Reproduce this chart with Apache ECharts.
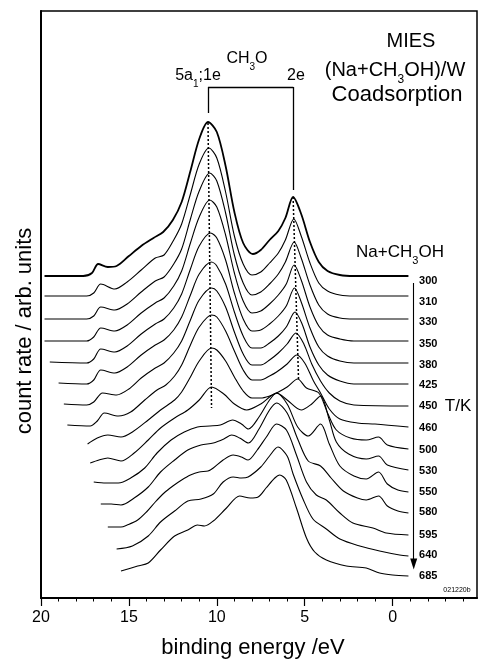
<!DOCTYPE html>
<html>
<head>
<meta charset="utf-8">
<script src="https://cdn.jsdelivr.net/npm/echarts@6/dist/echarts.min.js"></script>
<style>
  html, body { margin: 0; padding: 0; background: #fff; }
  #chart { width: 479px; height: 659px; }
</style>
</head>
<body>
<div id="chart"></div>
<script>
// temperatures (K), one curve each, top to bottom
const temps = ['300', '310', '330', '350', '380', '425', '450', '460', '500', '530', '550', '580', '595', '640', '685'];
// vertical offset of each curve baseline (arb. units)
const offsets = [322, 302, 279, 257, 235, 214, 192, 171, 149, 128, 106, 85, 63, 42, 22];
// x ticks
const majorTicks = [20, 15, 10, 5, 0];
const minorTicks = [20, 19, 18, 17, 16, 15, 14, 13, 12, 11, 10, 9, 8, 7, 6, 5, 4, 3, 2, 1, 0, -1, -2, -3, -4];

// spectra: [binding energy eV, count rate above own baseline]
const s300 = [[19.8,0],[17.6,0],[17.1,3],[16.75,12],[16.2,9],[15.7,10],[15,20],[14.3,30],[13.6,38],[13.05,44],[12.5,56],[12,74],[11.5,105],[11,137],[10.5,154],[10,144],[9.5,110],[9,64],[8.5,33],[7.95,22],[7.5,26],[7,36],[6.5,45],[6.1,58],[5.66,79],[5.2,62],[4.7,34],[4.2,14],[3.7,5],[3,1],[2.2,0],[-0.9,0]];
const s310 = [[19.8,0],[17.4,0],[17,3],[16.6,12],[15.8,7],[15.1,14],[14.3,26],[13.5,38],[13,41],[12.45,56],[12,72],[11.5,102],[11,132],[10.45,148],[10,138],[9.5,104],[9,60],[8.5,32],[8,21],[7.5,24],[7,33],[6.5,43],[6.1,56],[5.62,77],[5.2,60],[4.7,33],[4.2,13],[3.7,5],[3,1],[2.2,0],[-0.9,0]];
const s330 = [[19.8,0],[17.4,0],[17,3],[16.6,12],[15.8,9],[15.1,15],[14.3,27],[13.5,38],[13,42],[12.45,55],[12,70],[11.5,100],[11,128],[10.4,146],[10,138],[9.5,106],[9,64],[8.5,36],[8,24],[7.5,27],[7,35],[6.5,45],[6.1,57],[5.6,77],[5.2,61],[4.7,34],[4.2,14],[3.7,5],[3,1],[2.2,0],[-0.9,0]];
const s350 = [[19.8,0],[17.4,0],[17,4],[16.6,13],[15.8,10],[15.1,16],[14.3,28],[13.5,38],[13,43],[12.45,55],[12,70],[11.5,98],[11,124],[10.4,141],[10,134],[9.5,106],[9,68],[8.5,40],[8,28],[7.5,30],[7,37],[6.5,46],[6.05,57],[5.6,76],[5.2,61],[4.7,34],[4.2,15],[3.7,6],[3,2],[2.2,0],[-0.9,0]];
const s380 = [[19.5,1],[17.4,0],[17,4],[16.6,14],[15.8,11],[15.1,17],[14.3,29],[13.5,39],[13,44],[12.45,55],[12,69],[11.5,94],[11,117],[10.35,130],[10,125],[9.5,103],[9,70],[8.5,44],[8,32],[7.5,33],[7,39],[6.5,47],[6.05,57],[5.58,75],[5.2,61],[4.7,35],[4.2,16],[3.7,7],[3,2],[2.2,0],[-0.9,0]];
const s425 = [[19,1],[17.4,0],[17,4],[16.6,14],[15.8,11],[15.1,17],[14.3,29],[13.5,39],[13,44],[12.45,54],[12,67],[11.5,89],[11,110],[10.3,122],[10,118],[9.5,100],[9,72],[8.5,48],[8,36],[7.5,36],[7,41],[6.5,48],[6.05,57],[5.55,72],[5.15,60],[4.7,37],[4.2,19],[3.7,9],[3,3],[2.2,0],[-0.9,0]];
const s450 = [[18.7,2],[17.4,1],[17,4],[16.5,13],[15.7,11],[15,17],[14.3,28],[13.5,38],[13,43],[12.45,53],[12,65],[11.5,86],[11,106],[10.3,118],[10,115],[9.5,99],[9,74],[8.5,52],[8,41],[7.5,41],[7,46],[6.5,53],[6,62],[5.5,73],[5.05,62],[4.6,42],[4.1,25],[3.6,13],[3,5],[2.2,1],[-0.9,0]];
const s460 = [[18.5,2],[17.2,1],[16.8,6],[16.4,14],[15.6,11],[14.9,15],[14.1,27],[13.4,37],[12.9,42],[12.4,51],[12,62],[11.5,82],[11,100],[10.3,112],[10,110],[9.5,96],[9,76],[8.5,57],[8,47],[7.5,47],[7,51],[6.6,55],[6,63],[5.45,72],[5,64],[4.5,46],[4.1,34],[3.6,18],[3,8],[2,4],[1,3],[-0.9,0]];
const s500 = [[17.35,5],[16.8,11],[16.2,14],[15.45,12],[14.8,17],[13.9,29],[13.2,39],[12.4,49],[12,57],[11.5,72],[11,88],[10.3,101],[10,99],[9.5,88],[9,72],[8.5,58],[8,51],[7.5,51],[7,53],[6.6,56],[6,62],[5.4,70],[4.9,61],[4.2,56],[3.7,36],[3.2,19],[2.4,11],[1.5,9],[0.8,12],[0.3,4],[-0.9,0]];
const s530 = [[17.2,7],[16.7,10],[16.2,12],[15.45,9],[14.7,17],[13.9,30],[13.2,42],[12.4,52],[11.65,60],[11,70],[10.3,83],[9.6,76],[9,66],[8.3,60],[7.5,66],[7,73],[6.6,77],[6,70],[5.2,60],[4.6,66],[4.1,74],[3.6,50],[3.2,28],[2.5,16],[1.5,11],[0.8,14],[0.3,5],[-0.9,0]];
const s550 = [[17,10],[16.3,9],[15.6,9],[14.9,14],[14.1,24],[13.4,39],[12.6,52],[11.85,60],[11.1,65],[10.4,66],[9.8,67],[9.1,72],[8.6,68],[8.2,63],[7.6,75],[7,92],[6.6,99],[6,88],[5.4,65],[4.8,56],[4.1,68],[3.6,48],[3,26],[2.2,16],[1.5,13],[0.8,20],[0.3,8],[-0.3,2],[-0.9,0]];
const s580 = [[16.6,9],[16,9],[15.45,8],[14.7,15],[13.9,26],[13.2,41],[12.4,53],[11.65,63],[10.9,68],[10.2,70],[9.6,74],[9.15,78],[8.7,75],[8.2,70],[7.6,84],[7,103],[6.6,110],[6,100],[5.4,74],[4.8,52],[4.1,47],[3.5,35],[2.8,22],[2,15],[1.5,13],[0.8,17],[0.3,7],[-0.3,2],[-0.9,0]];
const s595 = [[16.2,8],[15.45,8],[15.1,10],[14.5,15],[14,23],[13.5,33],[13,42],[12.5,49],[12,55],[11.5,60],[11,63],[10.5,64],[10.2,67],[9.64,75],[9.07,80],[8.6,78],[8.22,75],[7.7,85],[7.18,98],[6.6,111],[6.04,105],[5.47,80],[4.9,53],[4.34,40],[3.77,35],[3,22],[2.26,12],[1.12,7],[0.36,2],[-0.9,0]];
const s640 = [[15.7,7],[14.8,10],[13.9,20],[13.2,34],[12.4,45],[11.65,55],[10.9,57],[10.2,62],[9.64,74],[9.07,79],[8.6,78],[8.22,79],[7.5,89],[7,100],[6.52,109],[6,100],[5.66,82],[5.1,57],[4.53,37],[3.77,27],[3,17],[1.87,10],[0.74,5],[-0.4,1],[-0.9,0]];
const s685 = [[15.45,5],[14.5,10],[13.9,13],[13.2,26],[12.4,40],[11.65,46],[11.1,51],[10.7,50],[10.2,55],[9.45,68],[8.7,80],[8.1,78],[7.65,79],[7.2,88],[6.7,98],[6.42,101],[6.05,96],[5.47,68],[4.9,38],[4.43,24],[3.77,16],[2.63,10],[1.5,8],[0.74,3],[0,1],[-0.9,0]];
const spectra = [s300, s310, s330, s350, s380, s425, s450, s460, s500, s530, s550, s580, s595, s640, s685];

// annotation lines in data units: [energy, count]
const bracketLine = [[10.5, 485], [10.5, 511], [5.65, 511], [5.65, 408]];
const dotted5a1 = [[10.5, 475], [10.3, 190]];
const dotted2e = [[5.66, 401], [5.35, 218]];
const tempArrow = [[-1.2, 315], [-1.2, 34]];

const font = 'Liberation Sans, Arial, Helvetica, sans-serif';
// small vertical nudge of the temperature labels
const labelDy = [5, 6, 3, 3, 2, 1, 0, 1, 1, 1, 0, -1, 0, -1, 0];

const chart = echarts.init(document.getElementById('chart'));

const curveSeries = spectra.map((s, i) => ({
    type: 'line',
    data: s.map(p => [p[0], p[1] + offsets[i]]),
    smooth: 0.3,
    showSymbol: false,
    silent: true,
    lineStyle: { color: '#000', width: i === 0 ? 1.8 : 1.1 },
    endLabel: {
        show: true,
        formatter: temps[i],
        offset: [37, labelDy[i]],
        fontSize: 11,
        fontWeight: 'bold',
        fontFamily: font,
        color: '#000'
    }
}));

function seg(a, b, style, sym) {
    return [
        { coord: a, symbol: 'none' },
        { coord: b, symbol: sym || 'none', symbolSize: [7, 11], lineStyle: style }
    ];
}

const solid = { color: '#000', width: 1.3, type: 'solid' };
const dots = { color: '#000', width: 1.5, type: [2, 2] };

const annoSeries = {
    type: 'line',
    data: [],
    silent: true,
    markLine: {
        silent: true,
        animation: false,
        label: { show: false },
        symbol: 'none',
        lineStyle: solid,
        data: [
            seg(bracketLine[0], bracketLine[1], solid),
            seg(bracketLine[1], bracketLine[2], solid),
            seg(bracketLine[2], bracketLine[3], solid),
            seg(dotted5a1[0], dotted5a1[1], dots),
            seg(dotted2e[0], dotted2e[1], dots),
            seg(tempArrow[0], tempArrow[1], { color: '#000', width: 1.1, type: 'solid' }, 'triangle')
        ]
    }
};

function richText(size, subSize, subLine) {
    return {
        a: { fontSize: size, lineHeight: size + 2, verticalAlign: 'top', fontFamily: font, fill: '#000' },
        s: { fontSize: subSize, lineHeight: subLine, verticalAlign: 'bottom', fontFamily: font, fill: '#000' }
    };
}

const option = {
    animation: false,
    backgroundColor: '#fff',
    grid: {
        left: 41, right: 2, top: 11, bottom: 61,
        show: true, borderColor: '#000', borderWidth: 1.5
    },
    xAxis: [{
        type: 'value', min: -4.8, max: 20, inverse: true,
        axisLine: { onZero: false, lineStyle: { color: '#000', width: 2 } },
        axisTick: { customValues: minorTicks, length: 3.5, lineStyle: { color: '#000', width: 1 } },
        axisLabel: { customValues: majorTicks, fontSize: 16, color: '#000', margin: 12, fontFamily: font },
        splitLine: { show: false }
    }, {
        type: 'value', min: -4.8, max: 20, inverse: true, position: 'bottom',
        axisLine: { show: false, onZero: false },
        axisTick: { customValues: majorTicks, length: 8, lineStyle: { color: '#000', width: 1.2 } },
        axisLabel: { show: false },
        splitLine: { show: false }
    }],
    yAxis: {
        type: 'value', min: 0, max: 587,
        axisLine: { show: true, onZero: false, lineStyle: { color: '#000', width: 2 } },
        axisTick: { show: false },
        axisLabel: { show: false },
        splitLine: { show: false }
    },
    series: curveSeries.concat([annoSeries]),
    graphic: [
        { type: 'text', x: 253, y: 648, silent: true,
          style: { text: 'binding energy /eV', fontSize: 22, fontFamily: font, fill: '#000', align: 'center', verticalAlign: 'middle' } },
        { type: 'text', x: 25, y: 331, rotation: Math.PI / 2, silent: true,
          style: { text: 'count rate / arb. units', fontSize: 22, fontFamily: font, fill: '#000', align: 'center', verticalAlign: 'middle' } },
        { type: 'text', x: 411, y: 41, silent: true,
          style: { text: 'MIES', fontSize: 20, fontFamily: font, fill: '#000', align: 'center', verticalAlign: 'middle' } },
        { type: 'text', x: 395, y: 60, silent: true,
          style: { text: '{a|(Na+CH}{s|3}{a|OH)/W}', align: 'center', verticalAlign: 'top', rich: richText(20, 12, 26) } },
        { type: 'text', x: 397, y: 95, silent: true,
          style: { text: 'Coadsorption', fontSize: 22, fontFamily: font, fill: '#000', align: 'center', verticalAlign: 'middle' } },
        { type: 'text', x: 247, y: 51, silent: true,
          style: { text: '{a|CH}{s|3}{a|O}', align: 'center', verticalAlign: 'top', rich: richText(16, 10, 21) } },
        { type: 'text', x: 198, y: 68, silent: true,
          style: { text: '{a|5a}{s|1}{a|;1e}', align: 'center', verticalAlign: 'top', rich: richText(16, 10, 21) } },
        { type: 'text', x: 296, y: 76, silent: true,
          style: { text: '2e', fontSize: 16, fontFamily: font, fill: '#000', align: 'center', verticalAlign: 'middle' } },
        { type: 'text', x: 400, y: 244, silent: true,
          style: { text: '{a|Na+CH}{s|3}{a|OH}', align: 'center', verticalAlign: 'top', rich: richText(17, 11, 22) } },
        { type: 'text', x: 458, y: 406, silent: true,
          style: { text: 'T/K', fontSize: 17, fontFamily: font, fill: '#000', align: 'center', verticalAlign: 'middle' } },
        { type: 'text', x: 457, y: 590, silent: true,
          style: { text: '021220b', fontSize: 7, fontFamily: font, fill: '#000', align: 'center', verticalAlign: 'middle' } }
    ]
};

chart.setOption(option);
</script>
</body>
</html>
